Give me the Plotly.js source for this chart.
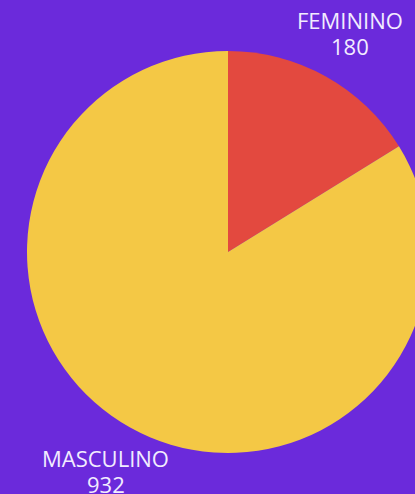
<!DOCTYPE html>
<html>
<head>
<meta charset="utf-8">
<script src="https://cdn.plot.ly/plotly-3.0.1.min.js"></script>
<style>
html, body { margin: 0; padding: 0; width: 415px; height: 494px; overflow: hidden; background: #6B2ADB; }
#chart { width: 456px; height: 494px; }
</style>
</head>
<body>
<div id="chart"></div>
<script>
const labels = ["FEMININO", "MASCULINO"];
const values = [180, 932];
const colors = ["#E3493F", "#F4C845"];

const W = 456, H = 494;
const M = { l: 0, r: 0, t: 51, b: 41 };
const plotW = W - M.l - M.r, plotH = H - M.t - M.b;
const R = Math.min(plotW, plotH) / 2;
const labelDist = R + 50;
const lineGap = 26.5;
const font = { family: "Open Sans, sans-serif", size: 22, color: "#F2ECFF" };

const total = values.reduce((a, b) => a + b, 0);
let acc = 0;
const annotations = [];
labels.forEach((lab, i) => {
  const mid = (acc + values[i] / 2) / total * 2 * Math.PI;
  acc += values[i];
  const dx = labelDist * Math.sin(mid);
  const dy = -labelDist * Math.cos(mid);
  const base = {
    xref: "paper", yref: "paper",
    x: 0.5 + dx / plotW,
    y: 0.5 - dy / plotH,
    xanchor: "center", yanchor: "middle",
    showarrow: false,
    font: font
  };
  annotations.push(Object.assign({}, base, { text: lab, yshift: lineGap / 2 }));
  annotations.push(Object.assign({}, base, { text: String(values[i]), yshift: -lineGap / 2 }));
});

Plotly.newPlot("chart", [{
  type: "pie",
  labels: labels,
  values: values,
  sort: false,
  direction: "clockwise",
  rotation: 0,
  textinfo: "none",
  hoverinfo: "none",
  marker: { colors: colors, line: { width: 0 } }
}], {
  width: W,
  height: H,
  margin: M,
  paper_bgcolor: "#6B2ADB",
  plot_bgcolor: "#6B2ADB",
  showlegend: false,
  annotations: annotations
}, { displayModeBar: false, staticPlot: true });
</script>
</body>
</html>
